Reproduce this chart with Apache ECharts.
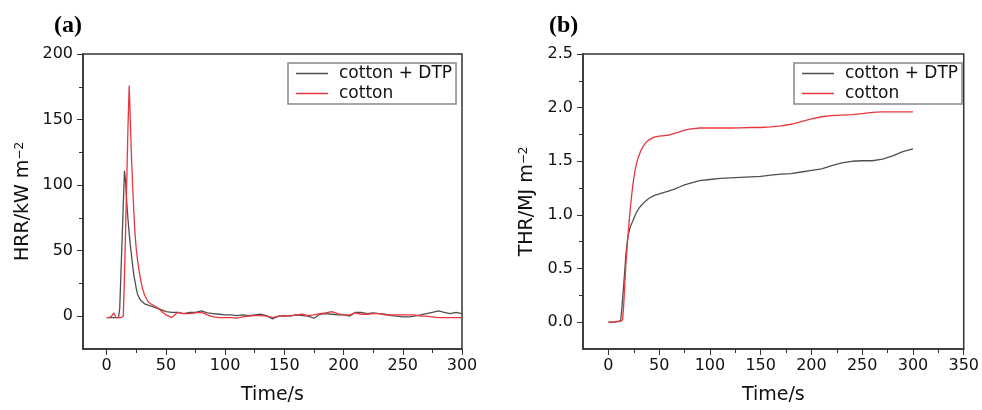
<!DOCTYPE html>
<html>
<head>
<meta charset="utf-8">
<script src="https://cdn.jsdelivr.net/npm/echarts@6/dist/echarts.min.js"></script>
<style>
  html, body { margin: 0; padding: 0; background: #fff; }
  #main { width: 982px; height: 410px; }
</style>
</head>
<body>
<div id="main"></div>
<script>
// (a) heat release rate, kW m-2
var hrrTime = [0, 2, 4, 6, 8, 10, 11, 12, 13, 14, 15, 16, 17, 18, 19, 20, 21, 22, 23, 24, 25, 26, 28, 30, 32, 35, 38, 40, 43, 46,
    50, 55, 60, 65, 70, 75, 80, 85, 90, 95, 100, 105, 110, 115, 120, 125, 130, 135, 140, 145, 150, 155, 160, 165, 170, 175,
    180, 185, 190, 195, 200, 205, 210, 215, 220, 225, 230, 235, 240, 245, 250, 255, 260, 265, 270, 275, 280, 285, 290, 295, 300];
var hrrDtp = [-1, -1, -1, -1, -1, -1, 6, 32, 58, 85, 111, 102, 86, 74, 63, 54, 46, 38, 31, 26, 21, 17, 13, 11, 9.5, 8.5, 7.5, 7, 6, 5,
    3.5, 3, 3, 2, 3, 3, 4, 2.5, 2, 1.5, 1, 1, 0.5, 1, 0.5, 1, 1.5, 0.5, -2, 0, 0.5, 0, 1, 0.5, 0, -1.5,
    1.5, 2, 1.5, 1, 1, 0, 3, 3, 2, 2.5, 2, 1.5, 0.5, 0, -0.5, -0.5, 0, 1, 2, 3, 4, 3, 2, 3, 2];
var hrrCotton = [-1, -1, 0, 2.5, -1, -1, -1, -1, -1, 0, 30, 68, 106, 145, 176, 148, 120, 98, 78, 62, 51, 43, 31, 22, 16, 11, 9, 8, 6.5, 4,
    1, -1, 3, 2, 2, 2.5, 3, 1, -0.5, -1, -1, -1, -1.5, -0.5, 0, 0.5, 0.5, 0, -1, 0, 0, 0.5, 1, 1.5, 0.5, 1,
    2, 2.5, 3.5, 2, 1, 1, 2.5, 1.5, 1.5, 2, 2, 1, 1, 1, 1, 1, 1, 0, 0, -0.5, -1, -1, -1, -1, -1];

// (b) total heat release, MJ m-2
var thrTime = [0, 5, 10, 12, 13, 14, 15, 16, 17, 18, 19, 20, 21, 22, 23, 24, 25, 26, 27, 28, 30, 32, 35, 38, 40, 45,
    50, 55, 60, 65, 70, 75, 80, 90, 100, 110, 120, 130, 140, 150, 160, 170, 180, 190, 200, 210, 220, 230, 240, 250,
    260, 270, 280, 290, 300];
var thrDtp = [0, 0, 0.005, 0.01, 0.1, 0.22, 0.34, 0.46, 0.6, 0.7, 0.78, 0.83, 0.87, 0.9, 0.92, 0.94, 0.965, 0.99, 1.01, 1.03,
    1.06, 1.085, 1.115, 1.14, 1.155, 1.18, 1.195, 1.21, 1.225, 1.24, 1.26, 1.28, 1.295, 1.32, 1.33, 1.34, 1.345, 1.35,
    1.355, 1.36, 1.37, 1.38, 1.385, 1.4, 1.415, 1.43, 1.46, 1.485, 1.5, 1.505, 1.505, 1.52, 1.55, 1.59, 1.615];
var thrCotton = [0, 0, 0.01, 0.01, 0.01, 0.02, 0.15, 0.32, 0.5, 0.64, 0.77, 0.89, 1.0, 1.1, 1.19, 1.27, 1.34, 1.4, 1.45, 1.49,
    1.55, 1.6, 1.65, 1.685, 1.7, 1.725, 1.735, 1.74, 1.745, 1.76, 1.775, 1.79, 1.8, 1.81, 1.81, 1.81, 1.81, 1.812,
    1.815, 1.815, 1.82, 1.83, 1.845, 1.87, 1.895, 1.915, 1.925, 1.93, 1.935, 1.945, 1.955, 1.96, 1.96, 1.96, 1.96];

var hrrXLabels = [0, 50, 100, 150, 200, 250, 300];
var hrrYLabels = [0, 50, 100, 150, 200];
var thrXLabels = [0, 50, 100, 150, 200, 250, 300, 350];
var thrYLabels = [0, 0.5, 1, 1.5, 2, 2.5];

var names = ['cotton + DTP', 'cotton'];
var colors = ['#505050', '#e8363c'];
var font = 'DejaVu Sans';
var axisColor = '#333';

function pairs(xs, ys) {
    return xs.map(function (x, i) { return [x, ys[i]]; });
}

// minor ticks half way between labels
function midSteps(labels) {
    var out = [];
    var step = labels[1] - labels[0];
    for (var i = 0; i < labels.length - 1; i++) out.push(labels[i] + step / 2);
    return out;
}

function xAxis(idx, min, max, labels) {
    return {
        type: 'value', gridIndex: idx, min: min, max: max, position: 'bottom',
        name: 'Time/s', nameLocation: 'middle', nameGap: 37,
        nameTextStyle: { fontFamily: font, fontSize: 19, color: '#111' },
        axisLine: { show: true, onZero: false, lineStyle: { color: axisColor, width: 1.5 } },
        axisTick: { show: true, customValues: labels, length: 6, lineStyle: { color: axisColor } },
        axisLabel: { customValues: labels, margin: 9, fontFamily: font, fontSize: 16, color: '#111' },
        splitLine: { show: false }
    };
}

// second axis on the same side, only for the short ticks
function minorX(idx, min, max, labels) {
    return {
        type: 'value', gridIndex: idx, min: min, max: max, position: 'bottom', offset: 0,
        axisLine: { show: false, onZero: false },
        axisTick: { show: true, customValues: midSteps(labels), length: 4, lineStyle: { color: axisColor } },
        axisLabel: { show: false },
        splitLine: { show: false }
    };
}

function yAxis(idx, min, max, labels, name, fmt) {
    return {
        type: 'value', gridIndex: idx, min: min, max: max, position: 'left',
        name: name, nameLocation: 'middle', nameGap: idx == 0 ? 50 : 46,
        nameTextStyle: {
            fontFamily: font, fontSize: 19, color: '#111',
            rich: { sup: { fontFamily: font, fontSize: 12, color: '#111', verticalAlign: 'top', padding: [0, 0, 6, 0] } }
        },
        axisLine: { show: true, onZero: false, lineStyle: { color: axisColor, width: 1.5 } },
        axisTick: { show: true, customValues: labels, length: 6, lineStyle: { color: axisColor } },
        axisLabel: { customValues: labels, margin: 10, fontFamily: font, fontSize: 16, color: '#111', formatter: fmt },
        splitLine: { show: false }
    };
}

function minorY(idx, min, max, labels) {
    return {
        type: 'value', gridIndex: idx, min: min, max: max, position: 'left', offset: 0,
        axisLine: { show: false, onZero: false },
        axisTick: { show: true, customValues: midSteps(labels), length: 4, lineStyle: { color: axisColor } },
        axisLabel: { show: false },
        splitLine: { show: false }
    };
}

function legend(left) {
    return {
        data: names, left: left, top: 63, orient: 'vertical', align: 'left',
        icon: 'rect', itemWidth: 32, itemHeight: 1.5, itemGap: 3,
        padding: [2, 4, 2, 8],
        borderColor: '#888', borderWidth: 1.5,
        textStyle: { fontFamily: font, fontSize: 17, color: '#111', padding: [0, 0, 0, 6] }
    };
}

function line(name, color, x, y, data) {
    return {
        name: name, type: 'line', xAxisIndex: x, yAxisIndex: y,
        data: data, showSymbol: false, symbol: 'none',
        color: color, lineStyle: { color: color, width: 1.3 },
        animation: false
    };
}

var chart = echarts.init(document.getElementById('main'));
var option = {
    backgroundColor: '#fff',
    animation: false,
    title: [
        { text: '(a)', left: 49, top: 9, textStyle: { fontFamily: 'Liberation Serif', fontWeight: 'bold', fontSize: 24, color: '#000' } },
        { text: '(b)', left: 544, top: 9, textStyle: { fontFamily: 'Liberation Serif', fontWeight: 'bold', fontSize: 24, color: '#000' } }
    ],
    legend: [legend(288), legend(794)],
    grid: [
        { left: 83, right: 520, top: 54, bottom: 59, show: true, borderColor: axisColor, borderWidth: 1.5 },
        { left: 583, right: 17, top: 54, bottom: 58, show: true, borderColor: axisColor, borderWidth: 1.5 }
    ],
    xAxis: [
        xAxis(0, -20, 300, hrrXLabels),
        xAxis(1, -25, 350, thrXLabels),
        minorX(0, -20, 300, hrrXLabels),
        minorX(1, -25, 350, thrXLabels)
    ],
    yAxis: [
        yAxis(0, -25, 200, hrrYLabels, 'HRR/kW m{sup|−2}', function (v) { return v; }),
        yAxis(1, -0.25, 2.5, thrYLabels, 'THR/MJ m{sup|−2}', function (v) { return v.toFixed(1); }),
        minorY(0, -25, 200, hrrYLabels),
        minorY(1, -0.25, 2.5, thrYLabels)
    ],
    series: [
        line(names[0], colors[0], 0, 0, pairs(hrrTime, hrrDtp)),
        line(names[1], colors[1], 0, 0, pairs(hrrTime, hrrCotton)),
        line(names[0], colors[0], 1, 1, pairs(thrTime, thrDtp)),
        line(names[1], colors[1], 1, 1, pairs(thrTime, thrCotton))
    ]
};
chart.setOption(option);
</script>
</body>
</html>
